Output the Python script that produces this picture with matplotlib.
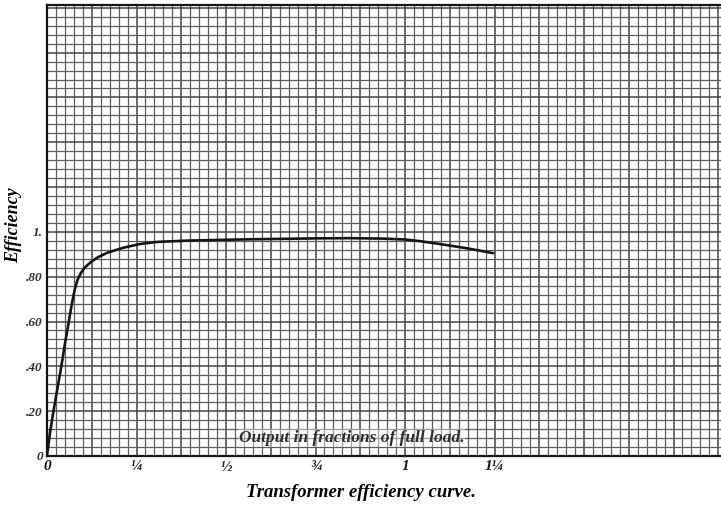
import numpy as np
import matplotlib
matplotlib.use("Agg")
import matplotlib.pyplot as plt

# output in fractions of full load / efficiency
load = [0, 0.008, 0.018, 0.029, 0.040, 0.050, 0.061, 0.069, 0.077, 0.085,
        0.094, 0.105, 0.12, 0.14, 0.167, 0.212, 0.26, 0.306, 0.39, 0.474,
        0.57, 0.66, 0.75, 0.846, 0.94, 1.0, 1.04, 1.08, 1.125, 1.172, 1.21,
        1.246]
efficiency = [0, 0.10, 0.20, 0.30, 0.40, 0.50, 0.60, 0.675, 0.74, 0.785,
              0.815, 0.84, 0.862, 0.885, 0.906, 0.929, 0.946, 0.955, 0.961,
              0.964, 0.967, 0.969, 0.971, 0.972, 0.970, 0.966, 0.959, 0.950,
              0.939, 0.927, 0.916, 0.905]

x_ticks = [0, 0.25, 0.5, 0.75, 1.0, 1.25]
x_labels = ["0", "¼", "½", "¾", "1", "1¼"]
y_ticks = [0, 0.2, 0.4, 0.6, 0.8, 1.0]
y_labels = ["0", ".20", ".40", ".60", ".80", "1."]

FONT = "Liberation Serif"
INK = "#141414"

fig = plt.figure(figsize=(7.21, 5.08), dpi=100)
ax = fig.add_axes([0.0652, 0.1024, 0.935, 0.888])
ax.set_xlim(0, 1.883)
ax.set_ylim(0, 2.013)

# squared paper: dark lines every cell, a bit heavier every 5 cells
for i, xv in enumerate(np.arange(0, 1.9, 0.025)):
    heavy = i % 5 == 0
    ax.axvline(xv, color="#444444" if heavy else "#5c5c5c",
               lw=1.1 if heavy else 0.9, zorder=1)
for i, yv in enumerate(np.arange(0, 2.02, 0.04)):
    heavy = i % 5 == 0
    ax.axhline(yv, color="#444444" if heavy else "#5c5c5c",
               lw=1.1 if heavy else 0.9, zorder=1)

ax.plot(load, efficiency, color=INK, lw=1.9, zorder=3,
        solid_joinstyle="round", solid_capstyle="round")

ax.text(0.535, 0.08, "Output in fractions of full load.", fontfamily=FONT,
        fontstyle="italic", fontweight="bold", fontsize=12.5, color="#2e2e2e",
        va="center", ha="left", zorder=4,
        bbox=dict(facecolor="white", edgecolor="none", alpha=0.4, pad=0.5))

ax.set_xticks(x_ticks)
ax.set_xticklabels(x_labels, fontfamily=FONT, fontstyle="italic",
                   fontweight="bold", fontsize=11, color=INK)
ax.set_yticks(y_ticks)
ax.set_yticklabels(y_labels, fontfamily=FONT, fontstyle="italic",
                   fontweight="bold", fontsize=9.5, color="#2e2e2e")
ax.tick_params(length=0, pad=3)

for side in ["left", "bottom", "top"]:
    ax.spines[side].set_color(INK)
    ax.spines[side].set_linewidth(1.6)
ax.spines["right"].set_visible(False)

fig.text(0.019, 0.557, "Efficiency", rotation=90, fontfamily=FONT,
         fontstyle="italic", fontweight="bold", fontsize=13, color="black",
         ha="center", va="center")
fig.text(0.5, 0.03, "Transformer efficiency curve.", fontfamily=FONT,
         fontstyle="italic", fontweight="bold", fontsize=13.5, color="black",
         ha="center", va="center")

fig.savefig("out.png", dpi=100)
